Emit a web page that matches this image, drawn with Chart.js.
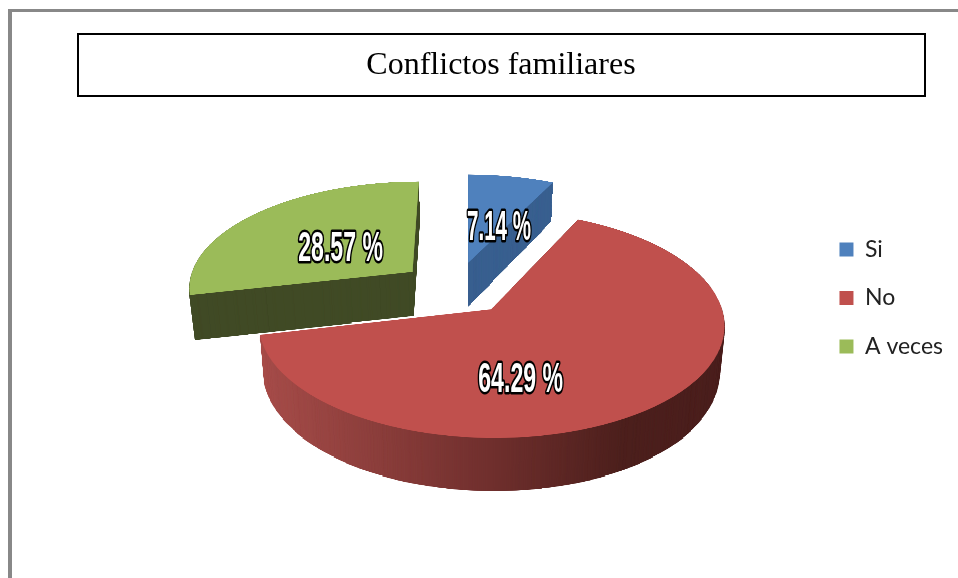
<!DOCTYPE html>
<html>
<head>
<meta charset="utf-8">
<style>html,body{margin:0;padding:0;background:#fff}canvas{display:block}</style>
<script src="https://cdn.jsdelivr.net/npm/chart.js@4/dist/chart.umd.min.js"></script>
</head>
<body>
<canvas id="c" width="958" height="578"></canvas>
<script>
const titleText = "Conflictos familiares";
const categories = ["Si", "No", "A veces"];
const values = [7.14, 64.29, 28.57];
const topColors = ["#4F81BD", "#C0504D", "#9BBB59"];

/* view of the tilted, exploded pie: style constants, no data */
const EXPLODE = 0.25, Q = 0.13, PC = 815, Y_INF = -527, X_VP = 468, U_VP = 0.0556, A = 225;
const DEPTH = 45, X_SHRINK = 0.02, RF = 400, OFF = 1280;
const DRAW_ORDER = [0, 2, 1];
const LABEL_NUDGE = [[31, -35], [29.5, 71], [-72, -22]];
const LABEL_SQUEEZE = [0.49, 0.55, 0.55];

function project(u, v) {
  const w = 1 - Q * v;
  return { x: X_VP + A * (u - U_VP) / w, y: Y_INF + PC / w };
}
function flatSlice(arc) {
  const off = document.createElement("canvas");
  off.width = off.height = OFF;
  const o = off.getContext("2d");
  const half = (arc.startAngle + arc.endAngle) / 2;
  o.translate(OFF / 2 + EXPLODE * RF * Math.cos(half), OFF / 2 + EXPLODE * RF * Math.sin(half));
  o.scale(RF / arc.outerRadius, RF / arc.outerRadius);
  o.translate(-arc.x, -arc.y);
  arc.draw(o);
  return off;
}
function projectSlice(off, W, H) {
  const cv = document.createElement("canvas");
  cv.width = W; cv.height = H;
  const g = cv.getContext("2d");
  g.imageSmoothingEnabled = true;
  for (let y = 120; y < 490; y++) {
    const w0 = PC / (y - Y_INF), w1 = PC / (y + 1 - Y_INF), wm = (w0 + w1) / 2;
    const s0 = OFF / 2 + RF * (1 - w0) / Q, s1 = OFF / 2 + RF * (1 - w1) / Q;
    if (s0 < 0 || s1 > OFF) continue;
    const sc = A / (wm * RF);
    const dx = X_VP + A * (-OFF / 2 / RF - U_VP) / wm;
    g.drawImage(off, 0, s0, OFF, s1 - s0, dx, y, OFF * sc, 1);
  }
  return cv;
}
function wallFill(ctx, i) {
  if (i === 0) return "#385F8F";
  if (i === 2) return "#404A25";
  const gr = ctx.createLinearGradient(263, 0, 726, 0);
  gr.addColorStop(0, "#A64C49");
  gr.addColorStop(0.49, "#702F2D");
  gr.addColorStop(0.78, "#4C1F1C");
  gr.addColorStop(1, "#4A1E1C");
  return gr;
}

const pie3d = {
  id: "pie3d",
  beforeDraw(chart) {
    const c = chart.ctx;
    c.save();
    c.fillStyle = "#fff";
    c.fillRect(0, 0, chart.width, chart.height);
    c.fillStyle = "#888888";
    c.fillRect(8, 9, chart.width - 8, 3);
    c.fillRect(8, 9, 4, chart.height - 9);
    c.strokeStyle = "#000";
    c.lineWidth = 2;
    c.strokeRect(78, 34, 847, 62);
    c.restore();
  },
  beforeDatasetsDraw(chart) {
    const c = chart.ctx, W = chart.width, H = chart.height;
    const arcs = chart.getDatasetMeta(0).data;
    for (const i of DRAW_ORDER) {
      const top = projectSlice(flatSlice(arcs[i]), W, H);
      const wall = document.createElement("canvas");
      wall.width = W; wall.height = H;
      const wc = wall.getContext("2d");
      wc.drawImage(top, 0, 0);
      wc.globalCompositeOperation = "source-in";
      wc.fillStyle = wallFill(wc, i);
      wc.fillRect(0, 0, W, H);
      for (let dz = DEPTH; dz >= 0.5; dz -= 0.5) {
        const sx = 1 - X_SHRINK * dz / DEPTH, sy = 1 + dz / PC;
        c.save();
        c.imageSmoothingEnabled = false;
        c.transform(sx, 0, 0, sy, X_VP * (1 - sx), Y_INF * (1 - sy));
        c.drawImage(wall, 0, 0);
        c.restore();
      }
      c.drawImage(top, 0, 0);
    }
    return false;
  },
  afterDraw(chart) {
    const c = chart.ctx;
    const arcs = chart.getDatasetMeta(0).data;
    arcs.forEach((arc, i) => {
      const half = (arc.startAngle + arc.endAngle) / 2;
      const p = project(EXPLODE * Math.cos(half), EXPLODE * Math.sin(half));
      const txt = values[i].toFixed(2) + " %";
      c.save();
      c.translate(p.x + LABEL_NUDGE[i][0], p.y + LABEL_NUDGE[i][1]);
      c.scale(LABEL_SQUEEZE[i], 1);
      c.font = 'bold 42px "Liberation Sans"';
      c.textAlign = "center";
      c.textBaseline = "middle";
      c.lineJoin = "round";
      c.lineWidth = 5;
      c.strokeStyle = "#000";
      c.strokeText(txt, 0, 0);
      c.fillStyle = "#fff";
      c.fillText(txt, 0, 0);
      c.restore();
    });
  }
};

new Chart(document.getElementById("c"), {
  type: "pie",
  data: {
    labels: categories,
    datasets: [{ data: values, backgroundColor: topColors, borderWidth: 0 }]
  },
  plugins: [pie3d],
  options: {
    responsive: false,
    animation: false,
    events: [],
    layout: { padding: { left: 49, right: 5, top: 18, bottom: 0 } },
    plugins: {
      tooltip: { enabled: false },
      title: {
        display: true,
        text: titleText,
        color: "#000",
        font: { family: '"Liberation Serif"', size: 32, weight: "normal" },
        padding: { top: 28, bottom: 17 }
      },
      legend: {
        position: "right",
        labels: {
          color: "#222",
          boxWidth: 14,
          boxHeight: 14,
          padding: 25.5,
          font: { family: "Lato", size: 23 }
        }
      }
    }
  }
});
</script>
</body>
</html>
